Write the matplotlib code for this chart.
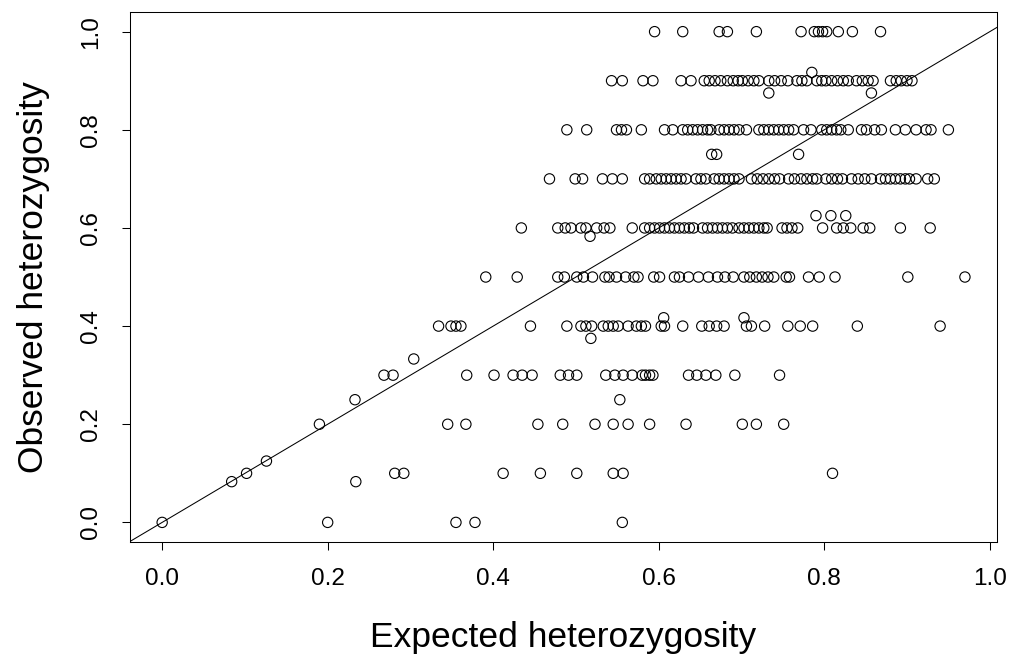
import numpy as np
import matplotlib
matplotlib.use("Agg")
import matplotlib.pyplot as plt

# ---------------------------------------------------------------------------
# Expected heterozygosity per locus, grouped by observed heterozygosity
# ---------------------------------------------------------------------------
obs_levels = [1.0, 0.9, 0.8, 0.7, 0.6, 0.5, 0.4, 0.3, 0.2, 0.1, 0.0]

he_1_0 = [0.595, 0.629, 0.673, 0.683, 0.718, 0.772, 0.788, 0.793, 0.798,
          0.803, 0.817, 0.834, 0.868]
he_0_9 = [0.543, 0.556, 0.581, 0.593, 0.627, 0.639, 0.655, 0.661, 0.668,
          0.675, 0.683, 0.690, 0.696, 0.701, 0.708, 0.715, 0.721, 0.733,
          0.740, 0.748, 0.756, 0.767, 0.773, 0.779, 0.791, 0.797, 0.802,
          0.809, 0.816, 0.823, 0.829, 0.839, 0.846, 0.853, 0.859, 0.880,
          0.887, 0.893, 0.900, 0.906]
he_0_8 = [0.489, 0.513, 0.549, 0.555, 0.561, 0.579, 0.607, 0.617, 0.629,
          0.635, 0.641, 0.647, 0.653, 0.659, 0.663, 0.673, 0.679, 0.685,
          0.691, 0.697, 0.706, 0.721, 0.727, 0.733, 0.739, 0.745, 0.751,
          0.757, 0.763, 0.775, 0.784, 0.797, 0.803, 0.809, 0.815, 0.820,
          0.829, 0.845, 0.851, 0.861, 0.869, 0.886, 0.898, 0.911, 0.923,
          0.929, 0.950]
he_0_7 = [0.468, 0.499, 0.508, 0.532, 0.544, 0.556, 0.583, 0.589, 0.597,
          0.603, 0.609, 0.615, 0.621, 0.627, 0.633, 0.645, 0.651, 0.657,
          0.667, 0.673, 0.679, 0.685, 0.691, 0.697, 0.712, 0.719, 0.726,
          0.733, 0.740, 0.746, 0.757, 0.764, 0.772, 0.779, 0.786, 0.791,
          0.802, 0.809, 0.816, 0.822, 0.833, 0.841, 0.849, 0.857, 0.868,
          0.874, 0.880, 0.886, 0.892, 0.898, 0.903, 0.911, 0.925, 0.933]
he_0_6 = [0.434, 0.478, 0.487, 0.494, 0.506, 0.512, 0.525, 0.534, 0.541,
          0.568, 0.583, 0.589, 0.595, 0.601, 0.607, 0.613, 0.619, 0.625,
          0.631, 0.637, 0.642, 0.653, 0.659, 0.665, 0.671, 0.677, 0.683,
          0.689, 0.697, 0.703, 0.709, 0.715, 0.721, 0.727, 0.731, 0.749,
          0.755, 0.761, 0.768, 0.798, 0.815, 0.823, 0.832, 0.847, 0.855,
          0.892, 0.928]
he_0_5 = [0.391, 0.429, 0.478, 0.486, 0.501, 0.509, 0.520, 0.535, 0.540,
          0.549, 0.560, 0.570, 0.575, 0.594, 0.601, 0.619, 0.625, 0.636,
          0.648, 0.660, 0.671, 0.680, 0.690, 0.703, 0.710, 0.718, 0.725,
          0.732, 0.739, 0.754, 0.758, 0.781, 0.794, 0.813, 0.901, 0.970]
he_0_4 = [0.334, 0.349, 0.355, 0.361, 0.445, 0.489, 0.506, 0.512, 0.519,
          0.533, 0.539, 0.545, 0.551, 0.563, 0.573, 0.579, 0.584, 0.603,
          0.607, 0.629, 0.652, 0.661, 0.670, 0.679, 0.706, 0.712, 0.728,
          0.756, 0.771, 0.786, 0.840, 0.940]
he_0_3 = [0.268, 0.279, 0.368, 0.401, 0.424, 0.435, 0.447, 0.481, 0.491,
          0.501, 0.536, 0.547, 0.557, 0.568, 0.580, 0.584, 0.589, 0.593,
          0.636, 0.646, 0.657, 0.669, 0.692, 0.746]
he_0_2 = [0.190, 0.345, 0.367, 0.454, 0.484, 0.523, 0.545, 0.563, 0.589,
          0.633, 0.701, 0.718, 0.751]
he_0_1 = [0.102, 0.281, 0.292, 0.412, 0.457, 0.501, 0.545, 0.557, 0.810]
he_0_0 = [0.000, 0.200, 0.355, 0.378, 0.556]

# loci whose observed heterozygosity is not a multiple of 0.1
odd_he = [0.084, 0.234, 0.126, 0.233, 0.304, 0.518, 0.606, 0.703, 0.517,
          0.790, 0.808, 0.826, 0.664, 0.670, 0.769, 0.733, 0.857, 0.785,
          0.553]
odd_ho = [0.083, 0.083, 0.125, 0.250, 0.333, 0.375, 0.417, 0.417, 0.583,
          0.625, 0.625, 0.625, 0.750, 0.750, 0.750, 0.875, 0.875, 0.917,
          0.250]

groups = [he_1_0, he_0_9, he_0_8, he_0_7, he_0_6, he_0_5, he_0_4, he_0_3,
          he_0_2, he_0_1, he_0_0]

he = np.concatenate([np.array(g) for g in groups] + [np.array(odd_he)])
ho = np.concatenate([np.full(len(g), lv) for g, lv in zip(groups, obs_levels)]
                    + [np.array(odd_ho)])

# ---------------------------------------------------------------------------
# Plot
# ---------------------------------------------------------------------------
plt.rcParams["font.family"] = ["Liberation Sans", "DejaVu Sans"]

fig = plt.figure(figsize=(10.2, 6.61), dpi=100)
ax = fig.add_axes([0.1275, 0.18, 0.85, 0.8018])

ax.scatter(he, ho, s=55, facecolors="none", edgecolors="black",
           linewidths=0.8, zorder=3)
ax.axline((0, 0), slope=1, color="black", linewidth=0.75, zorder=2)

# R-style 4% padding around the data range
xmin, xmax = he.min(), he.max()
dx = (xmax - xmin) * 0.04
ax.set_xlim(xmin - dx, xmax + dx)
ax.set_ylim(-0.04, 1.04)

ticks = [0.0, 0.2, 0.4, 0.6, 0.8, 1.0]
ax.set_xticks(ticks)
ax.set_yticks(ticks)
ax.set_xticklabels([f"{t:.1f}" for t in ticks])
ax.set_yticklabels([f"{t:.1f}" for t in ticks], rotation=90, va="center")
ax.tick_params(axis="both", labelsize=17.5, length=6, width=0.75,
               direction="out")
ax.tick_params(axis="x", pad=13)
ax.tick_params(axis="y", pad=14)

for sp in ax.spines.values():
    sp.set_linewidth(0.75)

ax.set_xlabel("Expected heterozygosity", fontsize=25.5, labelpad=22)
ax.set_ylabel("Observed heterozygosity", fontsize=25.5, labelpad=22)

fig.savefig("out.png", dpi=100)
